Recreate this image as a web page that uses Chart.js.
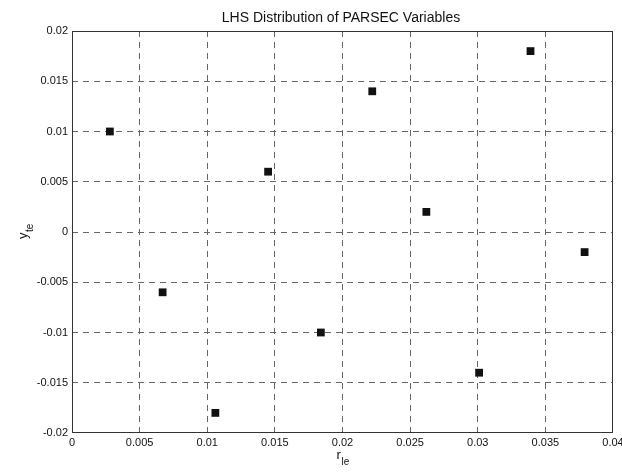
<!DOCTYPE html>
<html>
<head>
<meta charset="utf-8">
<script src="https://cdn.jsdelivr.net/npm/chart.js@4/dist/chart.umd.min.js"></script>
<style>
  html, body { margin: 0; padding: 0; background: #fff; }
  #wrap { width: 622px; height: 473px; }
</style>
</head>
<body>
<div id="wrap"><canvas id="lhs"></canvas></div>
<script>
// sample points
const rle = [0.0028, 0.0067, 0.0106, 0.0145, 0.0184, 0.0222, 0.0262, 0.0301, 0.0339, 0.0379];
const yte = [0.010, -0.006, -0.018, 0.006, -0.010, 0.014, 0.002, -0.014, 0.018, -0.002];

const xTicks = [0, 0.005, 0.01, 0.015, 0.02, 0.025, 0.03, 0.035, 0.04];
const yTicks = [-0.02, -0.015, -0.01, -0.005, 0, 0.005, 0.01, 0.015, 0.02];

const titleText = 'LHS Distribution of PARSEC Variables';

const points = rle.map((x, i) => ({ x: x, y: yte[i] }));

// matlab style tick labels (0.010 -> 0.01)
const fmt = v => {
  if (Math.abs(v) < 1e-12) return '0';
  return String(parseFloat(v.toFixed(4)));
};

const FONT = '"Liberation Sans", Arial, sans-serif';

// no dashed line on the outer edges, the frame covers those
const gridColor = ctx => {
  const n = ctx.scale.ticks.length;
  return (ctx.index === 0 || ctx.index === n - 1) ? 'rgba(0,0,0,0)' : '#666';
};

// solid box round the axes, like matlab's "box on"
const framePlugin = {
  id: 'frame',
  beforeDatasetsDraw(chart) {
    const { ctx, chartArea: a } = chart;
    ctx.save();
    ctx.strokeStyle = '#333';
    ctx.lineWidth = 1;
    ctx.setLineDash([]);
    ctx.strokeRect(a.left + 0.5, a.top + 0.5, a.right - a.left - 1, a.bottom - a.top - 1);
    ctx.restore();
  }
};

// title + subscripted axis labels
const labelsPlugin = {
  id: 'labels',
  afterDraw(chart) {
    const ctx = chart.ctx;
    const area = chart.chartArea;
    ctx.save();
    ctx.fillStyle = '#111';
    ctx.textBaseline = 'alphabetic';

    ctx.font = '14px ' + FONT;
    ctx.textAlign = 'center';
    ctx.fillText(titleText, 341, 22);

    // x label r_le
    const cx = (area.left + area.right) / 2;
    ctx.textAlign = 'left';
    ctx.font = '13px ' + FONT;
    ctx.fillText('r', cx - 6, 459);
    ctx.font = '10px ' + FONT;
    ctx.fillText('le', cx - 1, 465);

    // y label y_te (rotated)
    ctx.translate(27, (area.top + area.bottom) / 2);
    ctx.rotate(-Math.PI / 2);
    ctx.font = '13px ' + FONT;
    ctx.fillText('y', -7, 0);
    ctx.font = '10px ' + FONT;
    ctx.fillText('te', 0, 6);
    ctx.restore();
  }
};

new Chart(document.getElementById('lhs'), {
  type: 'scatter',
  data: {
    datasets: [{
      data: points,
      pointStyle: 'rect',
      pointRadius: 5.5,
      pointHoverRadius: 5.5,
      backgroundColor: '#111',
      borderColor: '#111',
      borderWidth: 0
    }]
  },
  options: {
    responsive: true,
    maintainAspectRatio: false,
    animation: false,
    layout: { padding: { top: 31, right: 9, left: 0, bottom: 0 } },
    plugins: {
      legend: { display: false },
      tooltip: { enabled: false }
    },
    scales: {
      x: {
        type: 'linear',
        min: 0,
        max: 0.04,
        afterBuildTicks: s => { s.ticks = xTicks.map(v => ({ value: v })); },
        afterFit: s => { s.height = 40; s.paddingLeft = 0; s.paddingRight = 0; },
        ticks: {
          callback: v => fmt(v),
          color: '#111',
          font: { family: FONT, size: 11 },
          padding: 3,
          maxRotation: 0,
          autoSkip: false
        },
        grid: {
          color: gridColor,
          lineWidth: 1,
          drawTicks: false
        },
        border: { display: false, dash: [6, 5] }
      },
      y: {
        type: 'linear',
        min: -0.02,
        max: 0.02,
        afterBuildTicks: s => { s.ticks = yTicks.map(v => ({ value: v })); },
        afterFit: s => { s.width = 72; s.paddingTop = 0; s.paddingBottom = 0; },
        ticks: {
          callback: v => fmt(v),
          color: '#111',
          font: { family: FONT, size: 11 },
          padding: 4,
          autoSkip: false
        },
        grid: {
          color: gridColor,
          lineWidth: 1,
          drawTicks: false
        },
        border: { display: false, dash: [6, 5] }
      }
    }
  },
  plugins: [framePlugin, labelsPlugin]
});
</script>
</body>
</html>
